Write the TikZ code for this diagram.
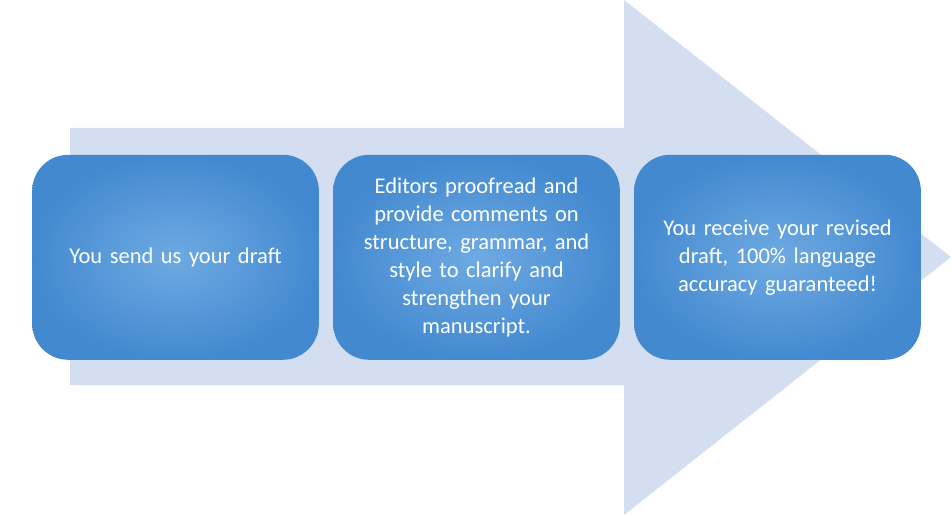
\documentclass[tikz,border=0pt]{standalone}
\usepackage{fontspec}
\setmainfont{Carlito}[WordSpace=0.75]
\definecolor{arrowc}{HTML}{D3DEF0}
\definecolor{boxin}{HTML}{6EAAE2}
\definecolor{boxout}{HTML}{4389D0}
\begin{document}
\begin{tikzpicture}[x=1pt,y=1pt,
  stepbox/.style={rounded corners=36pt, minimum width=286pt, minimum height=205pt,
    inner color=boxin, outer color=boxout, text=white, align=center, text width=280pt,
    font=\fontsize{22.5}{28}\selectfont, anchor=south west}]
\useasboundingbox (0,0) rectangle (952,515);
\fill[arrowc] (70,130) -- (624,130) -- (624,0) -- (951,258) -- (624,515) -- (624,387) -- (70,387) -- cycle;
\node[stepbox] (a) at (32,155) {You send us your draft};
\node[stepbox] (b) at (333,155) {Editors proofread and\\provide comments on\\structure, grammar, and\\style to clarify and\\strengthen your\\manuscript.};
\node[stepbox] (c) at (634,155) {You receive your revised\\draft, 100\% language\\accuracy guaranteed!};
\end{tikzpicture}
\end{document}
